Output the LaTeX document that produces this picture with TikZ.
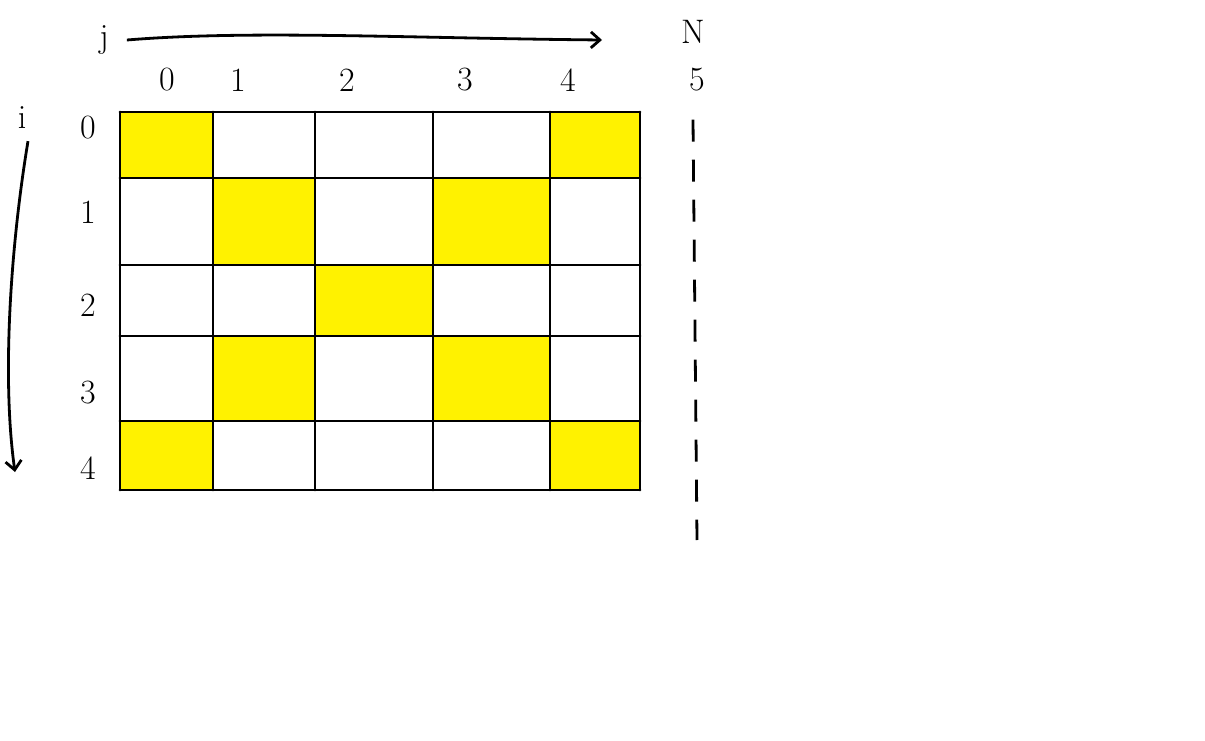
\documentclass[tikz,border=0pt]{standalone}
\usetikzlibrary{arrows.meta,positioning}
\definecolor{cellyellow}{RGB}{255,242,0}

\tikzset{
    gridline/.style={line width=2.8pt, line cap=round},
    lbl/.style={inner sep=0pt, font=\fontsize{34}{38}\selectfont},
    axisarrow/.style={line width=2.8pt, -{Straight Barb[length=9pt,width=16pt]}},
}

\begin{document}
\begin{tikzpicture}[x=1pt, y=-1pt]
    \useasboundingbox[fill=white] (0,0) rectangle (1205,741);

    % yellow cells (row, column)
    \foreach \r/\c in {0/0,0/4,1/1,1/3,2/2,3/1,3/3,4/0,4/4}{
        \pgfmathsetmacro{\xa}{{120,213,315,433,550}[\c]}
        \pgfmathsetmacro{\xb}{{213,315,433,550,640}[\c]}
        \pgfmathsetmacro{\ya}{{112,178,265,336,421}[\r]}
        \pgfmathsetmacro{\yb}{{178,265,336,421,490}[\r]}
        \fill[cellyellow] (\xa,\ya) rectangle (\xb,\yb);
    }

    % grid
    \foreach \y in {112,178,265,336,421,490}
        \draw[gridline] (120,\y) -- (640,\y);
    \foreach \x in {120,213,315,433,550,640}
        \draw[gridline] (\x,112) -- (\x,490);

    % column labels
    \foreach \c/\x in {0/167,1/238,2/347,3/465,4/568,5/697}
        \node[lbl] (col\c) at (\x,80) {\c};
    \node[lbl] (nlbl) at (693,32) {N};

    % row labels
    \foreach \r/\y in {0/128,1/212,2/305,3/393,4/468}
        \node[lbl] (row\r) at (88,\y) {\r};

    % axes
    \node[lbl] (jlbl) at (104,40) {j};
    \coordinate (jend) at (602,40);
    \draw[axisarrow] (jlbl.east) ++(18,0) .. controls (250,30) and (400,38) .. (jend);

    \node[lbl] (ilbl) at (22,118) {i};
    \coordinate (iend) at (15,472);
    \draw[axisarrow] (ilbl.south) ++(6,12) .. controls (10,250) and (2,380) .. (iend);

    % boundary at N
    \draw[line width=2.8pt, dash pattern=on 22pt off 18pt] (col5.south) ++(-4,28) -- (697,540);
\end{tikzpicture}
\end{document}
